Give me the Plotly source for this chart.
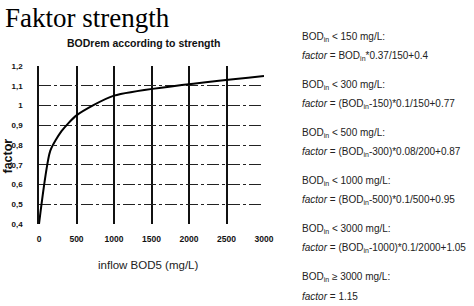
import plotly.graph_objects as go

# Data
bod_in = [0, 150, 300, 500, 1000, 3000]
factor = [0.4, 0.77, 0.87, 0.95, 1.05, 1.15]

x_ticks = [0, 500, 1000, 1500, 2000, 2500, 3000]
x_ticktext = ["0", "500", "1000", "1500", "2000", "2500", "3000"]
y_ticks = [0.4, 0.5, 0.6, 0.7, 0.8, 0.9, 1.0, 1.1, 1.2]
y_ticktext = ["0,4", "0,5", "0,6", "0,7", "0,8", "0,9", "1", "1,1", "1,2"]

conditions = [
    "BOD<sub>in</sub> &lt; 150 mg/L:",
    "BOD<sub>in</sub> &lt; 300 mg/L:",
    "BOD<sub>in</sub> &lt; 500 mg/L:",
    "BOD<sub>in</sub> &lt; 1000 mg/L:",
    "BOD<sub>in</sub> &lt; 3000 mg/L:",
    "BOD<sub>in</sub> ≥ 3000 mg/L:",
]
formulas = [
    "<i>factor</i> = BOD<sub>in</sub>*0.37/150+0.4",
    "<i>factor</i> = (BOD<sub>in</sub>-150)*0.1/150+0.77",
    "<i>factor</i> = (BOD<sub>in</sub>-300)*0.08/200+0.87",
    "<i>factor</i> = (BOD<sub>in</sub>-500)*0.1/500+0.95",
    "<i>factor</i> = (BOD<sub>in</sub>-1000)*0.1/2000+1.05",
    "<i>factor</i> = 1.15",
]

W, H = 474, 306
L, R, T, B = 39, 210, 66, 82
SANS = "Liberation Sans, Arial, sans-serif"

fig = go.Figure()
fig.add_trace(go.Scatter(
    x=bod_in, y=factor, mode="lines",
    line=dict(color="black", width=2, shape="spline", smoothing=0.6),
    hoverinfo="skip", showlegend=False,
))

fig.update_layout(
    width=W, height=H,
    margin=dict(l=L, r=R, t=T, b=B, autoexpand=False),
    paper_bgcolor="white", plot_bgcolor="white",
    font=dict(family=SANS, color="#111"),
    showlegend=False,
)

fig.update_xaxes(
    range=[0, 3000], tickvals=x_ticks, ticktext=x_ticktext,
    showgrid=True, gridcolor="#111", gridwidth=1.5,
    zeroline=False, showline=False, ticks="", automargin=False,
    ticklabelstandoff=8,
    tickfont=dict(family=SANS, size=8.5, color="#111", weight="bold"),
)
fig.update_yaxes(
    range=[0.4, 1.2], tickvals=y_ticks, ticktext=y_ticktext,
    showgrid=True, gridcolor="#222", gridwidth=1.2, griddash="12px,3px,3px,3px",
    zeroline=False, showline=True, linecolor="#111", linewidth=1.5, ticks="",
    automargin=False, ticklabelstandoff=13,
    tickfont=dict(family=SANS, size=8, color="#111", weight="bold"),
)

plot_w = W - L - R
plot_h = H - T - B


def px(xp):
    return (xp - L) / plot_w


def py(yp):
    return (H - B - yp) / plot_h


annotations = [
    dict(text="Faktor strength", xref="paper", yref="paper",
         x=px(3), y=py(1), xanchor="left", yanchor="top",
         showarrow=False, font=dict(family="Liberation Serif, Times New Roman, serif", size=27, color="black")),
    dict(text="BODrem according to strength", xref="paper", yref="paper",
         x=px(143), y=py(43), xanchor="center", yanchor="middle",
         showarrow=False, font=dict(family=SANS, size=10.5, color="#111", weight="bold")),
    dict(text="factor", xref="paper", yref="paper", textangle=-90,
         x=px(7.5), y=py(156), xanchor="center", yanchor="middle",
         showarrow=False, font=dict(family=SANS, size=12.5, color="#111", weight="bold")),
    dict(text="inflow BOD5 (mg/L)", xref="paper", yref="paper",
         x=px(148), y=py(265), xanchor="center", yanchor="middle",
         showarrow=False, font=dict(family=SANS, size=11.5, color="#222")),
]

for i, (c, f) in enumerate(zip(conditions, formulas)):
    y_c = 37 + 48 * i
    y_f = y_c + 19
    for txt, ypx in ((c, y_c), (f, y_f)):
        annotations.append(dict(
            text=txt, xref="paper", yref="paper",
            x=px(300), y=py(ypx),
            xanchor="left", yanchor="middle", showarrow=False,
            font=dict(family=SANS, size=10, color="#222"),
        ))

fig.update_layout(annotations=annotations)
fig.write_html("out.html", config={"displayModeBar": False},
               post_script="document.body.style.margin='0';")
